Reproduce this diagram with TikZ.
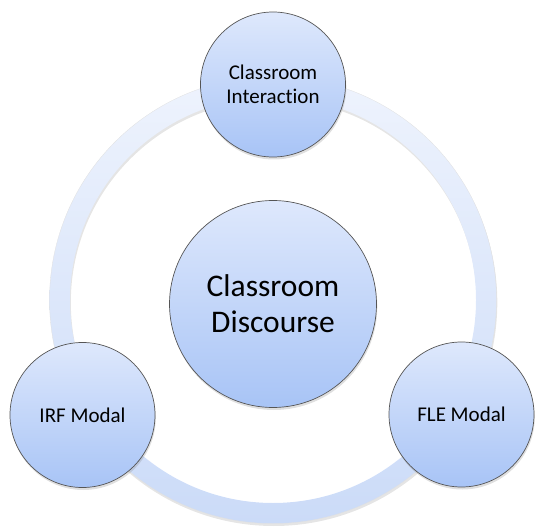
\documentclass[tikz,border=0pt]{standalone}
\usepackage{fontspec}
\setmainfont{Carlito}[Ligatures={NoCommon}]
\usetikzlibrary{shadows,calc}
\definecolor{circtop}{HTML}{DEE8FC}
\definecolor{circbot}{HTML}{A8C4F6}
\definecolor{ringtop}{HTML}{EEF3FD}
\definecolor{ringbot}{HTML}{CBDBF8}
\definecolor{circline}{HTML}{555555}
\tikzset{
  bubble/.style={circle, draw=circline, line width=0.7pt, inner sep=0pt,
    top color=circtop, bottom color=circbot, align=center, text=black,
    drop shadow={opacity=0.25, shadow xshift=0.8pt, shadow yshift=-2.5pt}},
  smallbubble/.style={bubble, minimum size=145pt, font=\fontsize{21}{24}\selectfont},
  bigbubble/.style={bubble, minimum size=207pt, font=\fontsize{31.5}{36}\selectfont},
  ringstyle/.style={top color=ringtop, bottom color=ringbot, even odd rule}
}
\begin{document}
\begin{tikzpicture}[x=1pt,y=1pt]
\useasboundingbox (0,0) rectangle (535,528);
\coordinate (rc) at (273,228);
% shadow of the ring
\fill[black, opacity=0.10, even odd rule] ($(rc)+(0.8,-2.5)$) circle (223.5) ($(rc)+(0.8,-2.5)$) circle (203);
\path[ringstyle] (rc) circle (223.5) (rc) circle (203);
\draw[line width=0.3pt, draw=black!12] (rc) circle (223.5);
\node[bigbubble] (cd) at (273,224) {Classroom\\Discourse};
\node[smallbubble] (ci) at (273,443.5) {Classroom\\Interaction};
\node[smallbubble] (irf) at (82.5,113) {IRF Modal};
\node[smallbubble] (fle) at (461.5,113.5) {FLE Modal};
\end{tikzpicture}
\end{document}
